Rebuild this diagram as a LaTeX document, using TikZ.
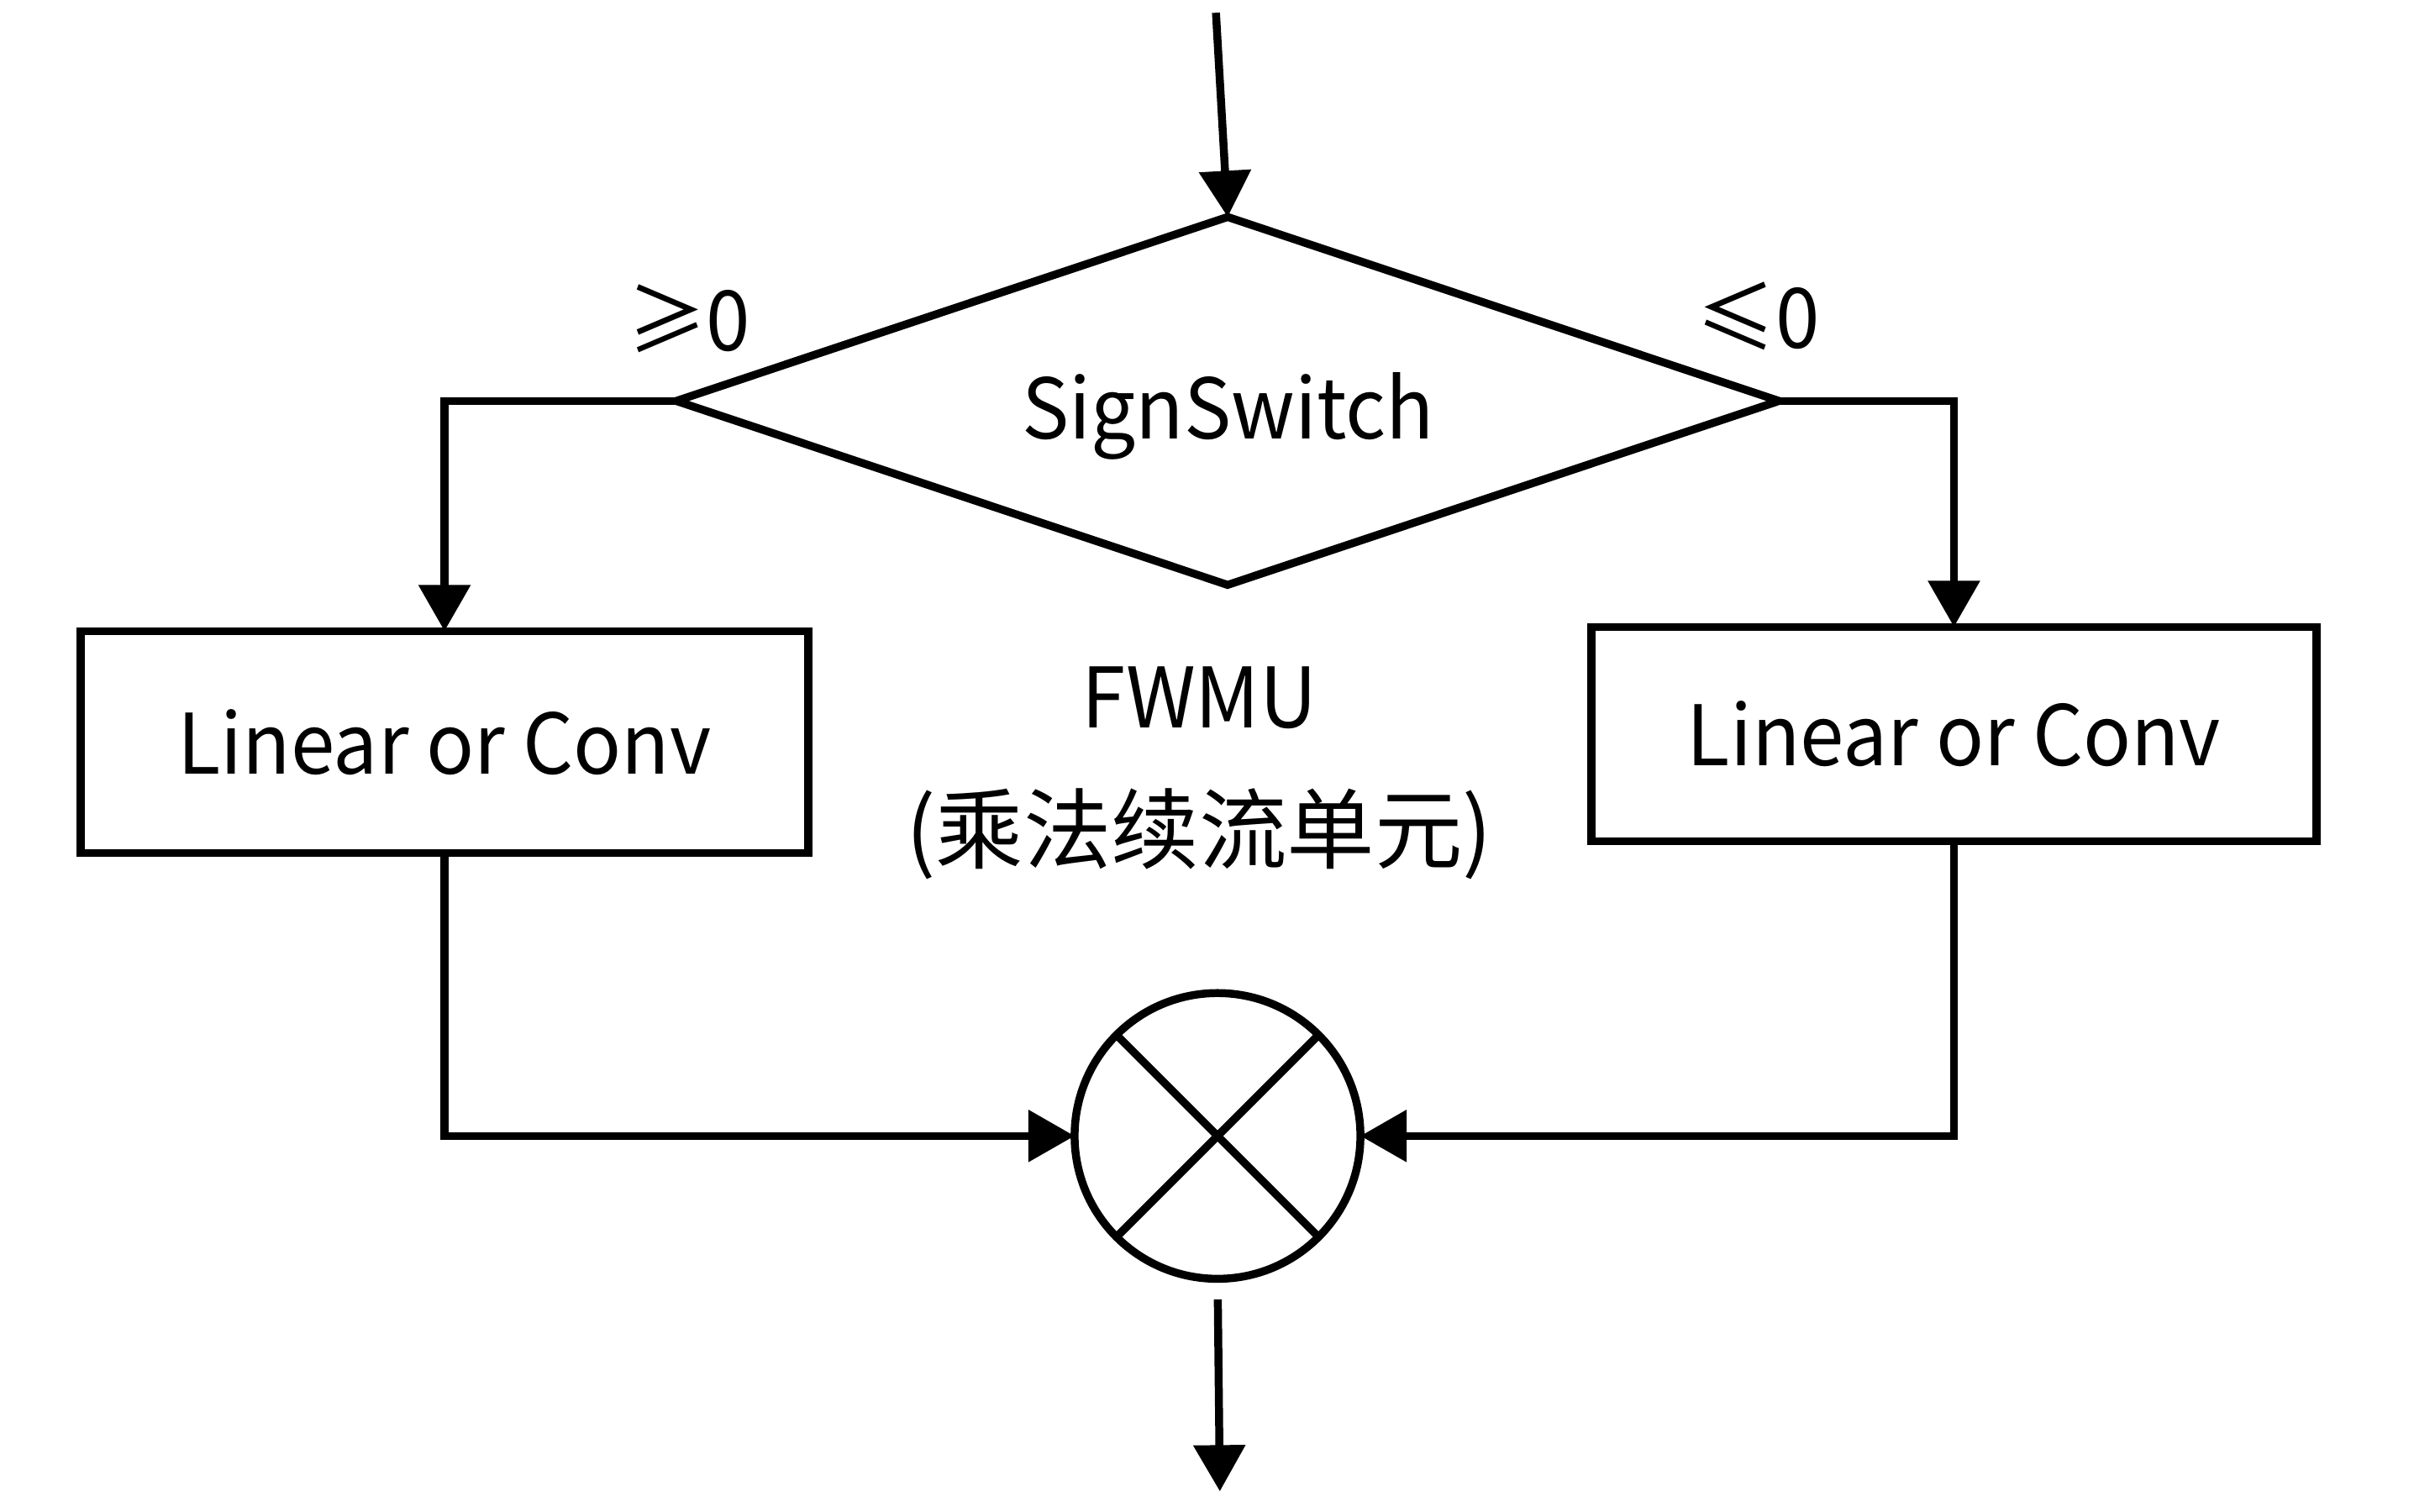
\documentclass[tikz,border=0pt]{standalone}
\usepackage{fontspec}
\setmainfont{Noto Sans CJK SC}
\newfontfamily\latinfont{Noto Sans CJK SC}[FakeStretch=0.95]
\usetikzlibrary{positioning,arrows.meta,shapes.geometric}

\begin{document}
\begin{tikzpicture}
		[font=\fontsize{16pt}{19pt}\selectfont,
		line width=1.45pt,
		every node/.style={outer sep=0pt, align=center},
		latin/.style={font=\fontsize{15.2pt}{18pt}\latinfont},
		blockbox/.style={rectangle, draw, latin, minimum width=4.66cm, minimum height=1.42cm},
		switchbox/.style={diamond, draw, aspect=3, minimum width=7.06cm, minimum height=2.356cm, inner sep=0pt},
		multnode/.style={circle, draw, minimum size=1.83cm, inner sep=0pt},
		flow/.style={-{Triangle[length=2.96mm,width=3.23mm]}},
		]
		\useasboundingbox (0,0) rectangle (15.59,9.68);
		\coordinate (in) at (7.785,9.598);
		\coordinate (outstart) at (7.797,1.358);
		\coordinate (out) at (7.81,0.129);
		\node[switchbox] (sw) at (7.86,7.112) {};
		\node[latin, anchor=base] (swtext) at (7.862,6.87) {SignSwitch};
		\node[blockbox] (left) at (2.846,4.928) {Linear or Conv};
		\node[blockbox, minimum width=4.64cm, minimum height=1.372cm] (right) at (12.51,4.979) {Linear or Conv};
		\node[multnode] (mult) at (7.795,2.405) {};
		\node[latin] (name) at (7.68,5.21) {FWMU};
		\node (cname) at (7.677,4.339) {(乘法续流单元)};
		\node[latin] (geq) at (4.41,7.641) {≥0};
		\node[latin] (leq) at (11.257,7.653) {≤0};
		% cross in the multiplier
		\draw (mult.45) -- (mult.225);
		\draw (mult.135) -- (mult.-45);
		% connectors
		\draw[flow] (in) -- (sw.north);
		\draw[flow] (sw.west) -| (left.north);
		\draw[flow] (sw.east) -| (right.north);
		\draw[flow] (left.south) |- (mult.west);
		\draw[flow] (right.south) |- (mult.east);
		\draw[flow] (outstart) -- (out);
	\end{tikzpicture}
\end{document}
